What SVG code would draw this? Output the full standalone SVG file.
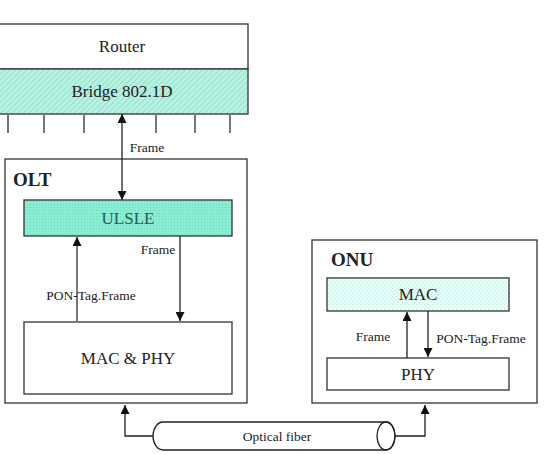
<svg xmlns="http://www.w3.org/2000/svg" width="557" height="454" viewBox="0 0 557 454">
<defs>
<pattern id="hatch" width="4" height="4" patternUnits="userSpaceOnUse" patternTransform="rotate(45)">
<rect width="4" height="4" fill="#b8f2e2"/>
<line x1="0" y1="0" x2="0" y2="4" stroke="#86d9c2" stroke-width="1.4"/>
</pattern>
<pattern id="cross" width="3" height="3" patternUnits="userSpaceOnUse">
<rect width="3" height="3" fill="#88edd2"/>
<rect width="1" height="1" fill="#6fd9bc"/>
</pattern>
<pattern id="dots" width="4" height="4" patternUnits="userSpaceOnUse">
<rect width="4" height="4" fill="#eefaf7"/>
<rect width="1" height="1" fill="#bfe9df"/>
<rect x="2" y="2" width="1" height="1" fill="#bfe9df"/>
</pattern>
<marker id="ah" viewBox="0 0 10 10" refX="10" refY="5" markerWidth="9" markerHeight="9" markerUnits="userSpaceOnUse" orient="auto-start-reverse">
<path d="M0,0 L10,5 L0,10 z" fill="#111"/>
</marker>
</defs>
<style>
.box{stroke:#333;stroke-width:1.3}
text{font-family:'Liberation Serif','DejaVu Serif',serif;fill:#222;text-anchor:middle}
.big{font-size:17px}
.sm{font-size:13.5px}
.bold{font-size:19px;font-weight:bold;text-anchor:start}
.ln{stroke:#222;stroke-width:1.3;fill:none}
.gl{stroke:#777;stroke-width:2;fill:none}
</style>
<rect width="557" height="454" fill="#fff"/>

<g id="router">
<rect class="box" x="-5" y="24" width="253" height="45" fill="#fff"/>
<text class="big" x="122" y="52">Router</text>
</g>
<g id="bridge">
<rect class="box" x="-5" y="69" width="253" height="45" fill="url(#hatch)"/>
<text class="big" x="122" y="97">Bridge 802.1D</text>
<g class="gl" stroke-width="1.5">
<line x1="8" y1="114" x2="8" y2="133"/>
<line x1="44" y1="114" x2="44" y2="133"/>
<line x1="84" y1="114" x2="84" y2="133"/>
<line x1="156" y1="114" x2="156" y2="133"/>
<line x1="195" y1="114" x2="195" y2="133"/>
<line x1="230" y1="114" x2="230" y2="133"/>
</g>
</g>

<g id="olt">
<rect class="box" x="5" y="159" width="242" height="244" fill="none" stroke="#555"/>
<text class="bold" x="13" y="186">OLT</text>
</g>
<g id="ulsle">
<rect class="box" x="24" y="200" width="208" height="36" fill="url(#cross)"/>
<text class="big" x="128" y="224" style="fill:#2a5a50">ULSLE</text>
</g>
<g id="macphy">
<rect class="box" x="24" y="322" width="208" height="72" fill="#fff"/>
<text class="big" x="128" y="364">MAC &amp; PHY</text>
</g>

<g id="onu">
<rect class="box" x="312" y="240" width="225" height="163" fill="none" stroke="#555"/>
<text class="bold" x="331" y="266">ONU</text>
</g>
<g id="onu-mac">
<rect class="box" x="327" y="278" width="182" height="33" fill="url(#dots)"/>
<text class="big" x="418" y="300">MAC</text>
</g>
<g id="onu-phy">
<rect class="box" x="327" y="358" width="182" height="32" fill="#fff"/>
<text class="big" x="418" y="380">PHY</text>
</g>

<g id="fiber">
<path class="ln" d="M163,422 L386,422 A9,14 0 0 1 386,450 L163,450 A10,14 0 0 1 163,422 Z" fill="#fff"/>
<ellipse class="ln" cx="386" cy="436" rx="9" ry="14"/>
<text class="sm" x="277" y="441">Optical fiber</text>
</g>

<g id="connectors">
<line class="ln" x1="122" y1="114" x2="122" y2="200" marker-start="url(#ah)" marker-end="url(#ah)"/>
<line class="gl" x1="77" y1="322" x2="77" y2="237" marker-end="url(#ah)"/>
<line class="ln" x1="180" y1="236" x2="180" y2="321" marker-end="url(#ah)"/>
<line class="ln" x1="407" y1="358" x2="407" y2="312" marker-end="url(#ah)"/>
<line class="ln" x1="428" y1="311" x2="428" y2="357" marker-end="url(#ah)"/>
<path class="ln" d="M153,436 L125,436 L125,405" marker-end="url(#ah)"/>
<path class="ln" d="M395,436 L425,436 L425,405" marker-end="url(#ah)"/>
<text class="sm" x="147" y="152">Frame</text>
<text class="sm" x="158" y="254">Frame</text>
<text class="sm" x="91" y="300">PON-Tag.Frame</text>
<text class="sm" x="373" y="341">Frame</text>
<text class="sm" x="481" y="343">PON-Tag.Frame</text>
</g>
</svg>
